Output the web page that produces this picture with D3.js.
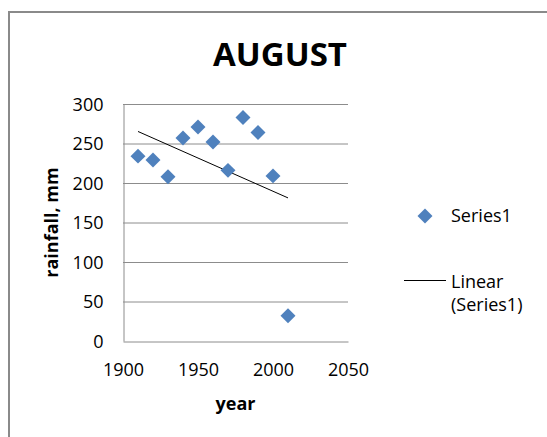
<!DOCTYPE html>
<html>
<head>
<meta charset="utf-8">
<script src="https://cdn.jsdelivr.net/npm/d3@7"></script>
<style>
  html, body { margin: 0; padding: 0; background: #fff; }
  svg { display: block; }
  text { font-family: "Open Sans", sans-serif; fill: #000; }
</style>
</head>
<body>
<svg id="chart" width="547" height="437"></svg>
<script>
// August rainfall by decade
const years = [1910, 1920, 1930, 1940, 1950, 1960, 1970, 1980, 1990, 2000, 2010];
const rainfall = [234, 229, 208, 257, 271, 252, 216, 283, 264, 209, 32];
const xTicks = [1900, 1950, 2000, 2050];
const yTicks = [0, 50, 100, 150, 200, 250, 300];
const title = "AUGUST";
const xTitle = "year";
const yTitle = "rainfall, mm";
const seriesName = "Series1";
const trendName = ["Linear", "(Series1)"];

const svg = d3.select("#chart");
const W = 547, H = 437;

const plot = { left: 123, right: 348, top: 104, bottom: 341 };
const x = d3.scaleLinear().domain([1900, 2050]).range([plot.left, plot.right]);
const y = d3.scaleLinear().domain([0, 300]).range([plot.bottom, plot.top]);

const gridColor = "#8c8c8c";
const markColor = "#4F81BD";

// chart border
svg.append("path")
  .attr("d", `M9,${H} V12 H${W}`)
  .attr("fill", "none")
  .attr("stroke", "#8a8a8a")
  .attr("stroke-width", 2);

// title
svg.append("text")
  .attr("x", 280).attr("y", 66)
  .attr("text-anchor", "middle")
  .attr("font-size", 33).attr("font-weight", "bold")
  .text(title);

// horizontal gridlines
svg.append("g").selectAll("line")
  .data(yTicks.filter(d => d > 0))
  .join("line")
  .attr("x1", plot.left).attr("x2", plot.right)
  .attr("y1", d => y(d) + 0.5).attr("y2", d => y(d) + 0.5)
  .attr("stroke", gridColor).attr("stroke-width", 1);

// axes
const yAxis = d3.axisLeft(y).tickValues(yTicks).tickSize(0).tickPadding(20);
const gy = svg.append("g").attr("transform", `translate(${plot.left + 0.5},0)`).call(yAxis);
const xAxis = d3.axisBottom(x).tickValues(xTicks).tickSize(0).tickPadding(22).tickFormat(d3.format("d"));
const gx = svg.append("g").attr("transform", `translate(0,${plot.bottom + 0.5})`).call(xAxis);
[gx, gy].forEach(g => {
  g.select(".domain").attr("stroke", gridColor);
  g.selectAll("text").attr("font-family", "Open Sans, sans-serif").attr("font-size", 18).attr("fill", "#000");
});
gy.selectAll("text").attr("dy", "0.34em");

// axis titles
svg.append("text")
  .attr("x", (plot.left + plot.right) / 2).attr("y", 410)
  .attr("text-anchor", "middle")
  .attr("font-size", 18).attr("font-weight", "bold")
  .text(xTitle);
svg.append("text")
  .attr("transform", `translate(58,${(plot.top + plot.bottom) / 2}) rotate(-90)`)
  .attr("text-anchor", "middle")
  .attr("font-size", 18).attr("font-weight", "bold")
  .text(yTitle);

// least-squares trend line
const mx = d3.mean(years), my = d3.mean(rainfall);
const slope = d3.sum(years, (v, i) => (v - mx) * (rainfall[i] - my)) / d3.sum(years, v => (v - mx) ** 2);
const fit = v => my + slope * (v - mx);
const trendX = d3.extent(years);
svg.append("line")
  .attr("x1", x(trendX[0])).attr("y1", y(fit(trendX[0])))
  .attr("x2", x(trendX[1])).attr("y2", y(fit(trendX[1])))
  .attr("stroke", "#000").attr("stroke-width", 1);

// diamond markers
const diamond = d3.symbol().type(d3.symbolSquare).size(112);
svg.append("g").selectAll("path")
  .data(years.map((v, i) => [v, rainfall[i]]))
  .join("path")
  .attr("d", diamond)
  .attr("transform", d => `translate(${x(d[0])},${y(d[1])}) rotate(45)`)
  .attr("fill", markColor);

// legend
const lg = svg.append("g");
lg.append("path").attr("d", diamond)
  .attr("transform", "translate(425,216) rotate(45)")
  .attr("fill", markColor);
lg.append("text").attr("x", 451).attr("y", 222).attr("font-size", 18).text(seriesName);
lg.append("line").attr("x1", 404).attr("x2", 446).attr("y1", 280.5).attr("y2", 280.5)
  .attr("stroke", "#000").attr("stroke-width", 1);
lg.selectAll("text.trend").data(trendName).join("text")
  .attr("class", "trend")
  .attr("x", 451).attr("y", (d, i) => 288 + i * 23)
  .attr("font-size", 18).text(d => d);
</script>
</body>
</html>
